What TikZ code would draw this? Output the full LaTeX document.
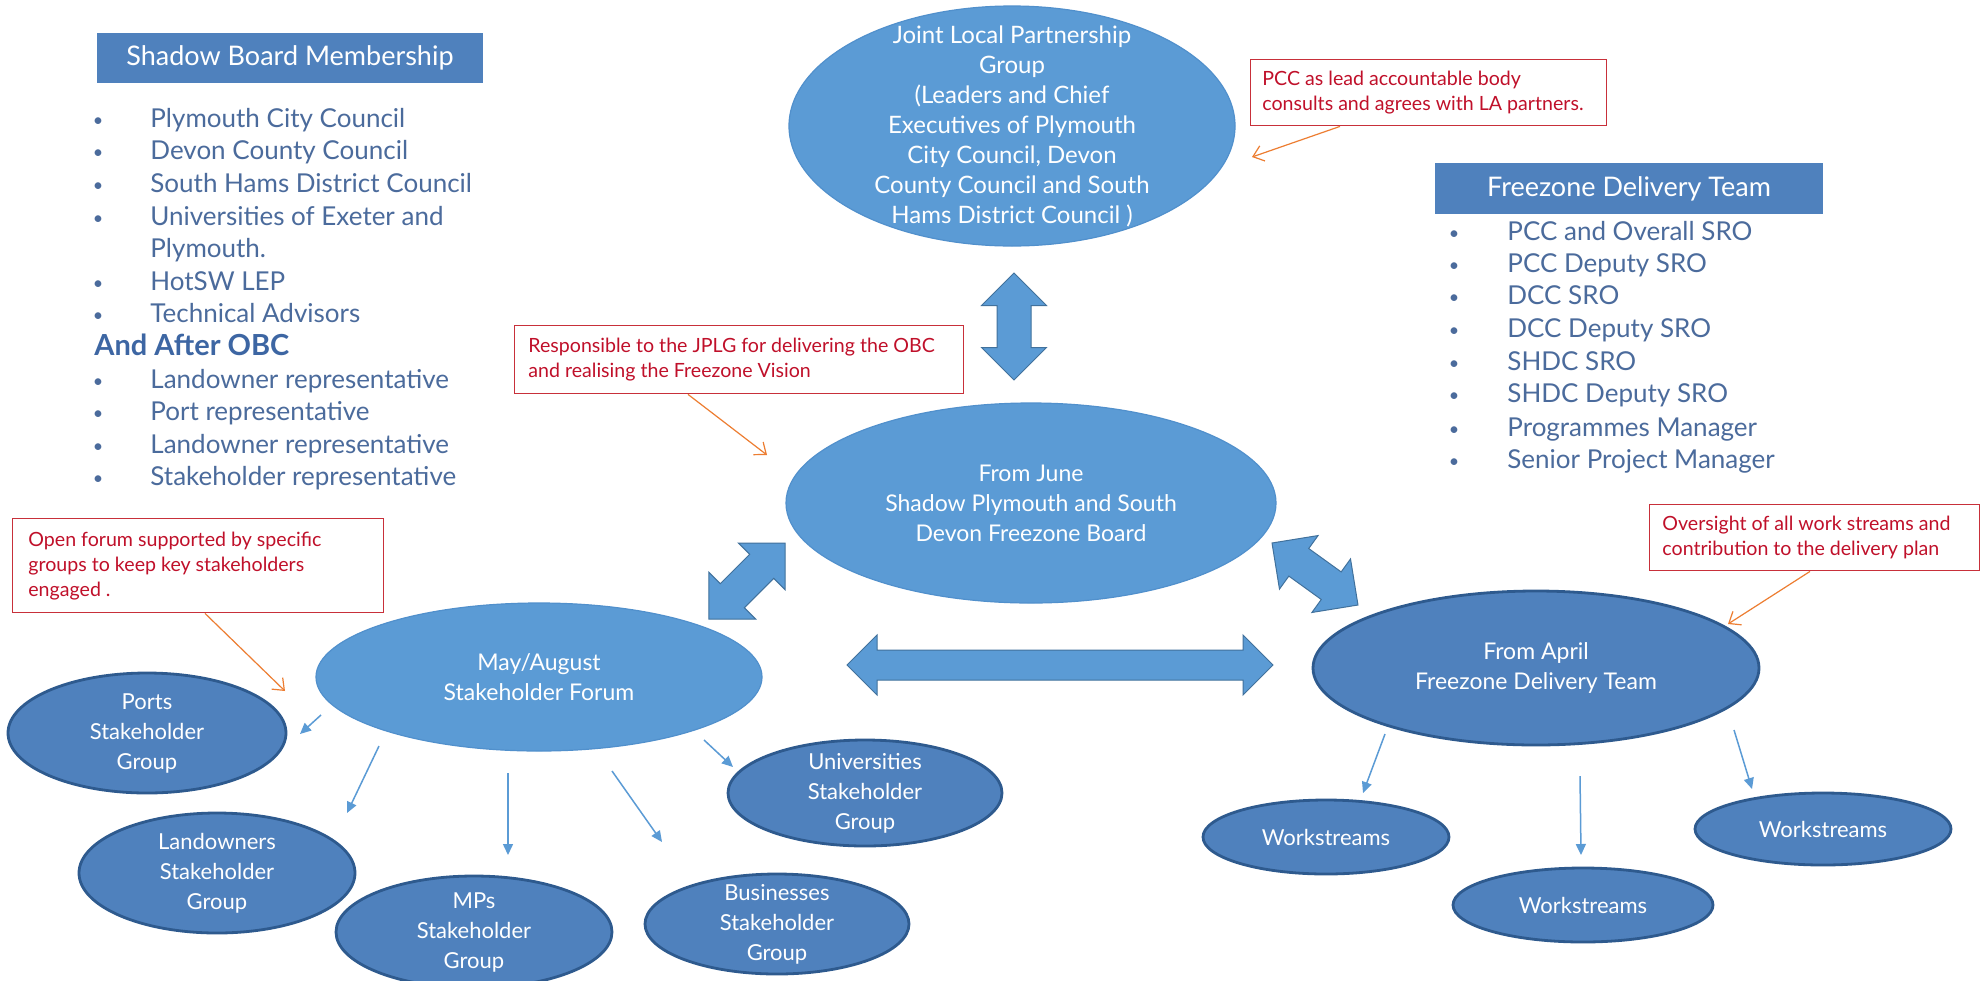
\documentclass[tikz,border=0pt]{standalone}
\usepackage{fontspec}
\setmainfont{Lato}
\usetikzlibrary{shapes.geometric,arrows.meta}
\definecolor{lightell}{HTML}{5B9BD5}
\definecolor{lightedge}{HTML}{5190CC}
\definecolor{darkell}{HTML}{4F81BD}
\definecolor{darkedge}{HTML}{2E5A8E}
\definecolor{hdr}{HTML}{4F81BD}
\definecolor{listc}{HTML}{4B6B9C}
\definecolor{obcc}{HTML}{3D66A3}
\definecolor{notered}{HTML}{C0102A}
\definecolor{noteedge}{HTML}{C8303A}
\definecolor{orangearr}{HTML}{ED7D31}
\definecolor{blockfill}{HTML}{5B9BD5}
\definecolor{blockedge}{HTML}{41719C}
\tikzset{
  pics/dblarrow/.style args={#1/#2/#3}{code={
    \filldraw[fill=blockfill, draw=blockedge, line width=0.5pt]
      (0,0) -- (#2,#2) -- (#2,#3) -- (#1-#2,#3) -- (#1-#2,#2) -- (#1,0)
      -- (#1-#2,-#2) -- (#1-#2,-#3) -- (#2,-#3) -- (#2,-#2) -- cycle;
  }}
}
\begin{document}
\begin{tikzpicture}[x=0.5pt,y=-0.5pt,
  every node/.style={inner sep=0pt},
  lightnode/.style={ellipse, fill=lightell, draw=lightedge, line width=0.6pt},
  darknode/.style={ellipse, fill=darkell, draw=darkedge, line width=1.4pt},
  elltext/.style={text=white, align=center, font=\fontsize{11.5}{15}\selectfont},
  smalltext/.style={text=white, align=center, font=\fontsize{11}{15}\selectfont},
  header/.style={fill=hdr, text=white, font=\fontsize{13.5}{16}\selectfont},
  listitem/.style={anchor=west, text=listc, font=\fontsize{13}{16}\selectfont, text height=0.72em, text depth=0.2em},
  obcitem/.style={anchor=west, text=obcc, font=\fontsize{14.5}{16}\bfseries\selectfont, text height=0.72em, text depth=0.2em},
  bulletmark/.style={text=listc, font=\fontsize{9}{10}\selectfont},
  notebox/.style={draw=noteedge, line width=0.7pt, fill=white, anchor=north west},
  notetext/.style={text=notered, align=left, anchor=west, font=\fontsize{9.8}{12.5}\selectfont},
  notearrow/.style={orangearr, line width=0.6pt, -{Straight Barb[length=5pt,width=8pt]}},
  feed/.style={lightell, line width=0.75pt, -{Triangle[length=5.5pt,width=5pt]}}
]
\useasboundingbox[fill=white] (0,0) rectangle (1984,980);

% ---------- headers ----------
\node[header, minimum width=193pt, minimum height=25pt] (sbmhead) at (290,58) {Shadow Board Membership};
\node[header, minimum width=194pt, minimum height=25.5pt] (fdthead) at (1629,188.5) {Freezone Delivery Team};

% ---------- left list ----------
\foreach \yy/\tt [count=\i] in {122/Plymouth City Council, 154/Devon County Council, 187/South Hams District Council, 220/Universities of Exeter and, 252/Plymouth., 285/HotSW LEP, 317/Technical Advisors, 383/Landowner representative, 415/Port representative, 448/Landowner representative, 480/Stakeholder representative}
  \node[listitem] (sbm\i) at (150,\yy) {\tt};
\foreach \yy [count=\i] in {122,154,187,220,285,317,383,415,448,480}
  \node[bulletmark] (sbmb\i) at (98,\yy) {\textbullet};
\node[obcitem] (obc) at (94,350) {And After OBC};

% ---------- right list ----------
\foreach \yy/\tt [count=\i] in {235/PCC and Overall SRO, 267/PCC Deputy SRO, 299/DCC SRO, 332/DCC Deputy SRO, 365/SHDC SRO, 397/SHDC Deputy SRO, 431/Programmes Manager, 463/Senior Project Manager}
{
  \node[listitem] (fdt\i) at (1507,\yy) {\tt};
  \node[bulletmark] (fdtb\i) at (1454,\yy) {\textbullet};
}

% ---------- ellipses ----------
\node[lightnode, minimum width=223pt, minimum height=120pt] (jlpg) at (1012,126) {};
\node[elltext, font=\fontsize{12}{15}\selectfont] (jlpgt) at (jlpg) {Joint Local Partnership\\Group\\(Leaders and Chief\\Executives of Plymouth\\City Council, Devon\\County Council and South\\Hams District Council )};

\node[lightnode, minimum width=245pt, minimum height=100pt] (board) at (1031,503) {};
\node[elltext] (boardt) at (board) {From June\\Shadow Plymouth and South\\Devon Freezone Board};

\node[lightnode, minimum width=223pt, minimum height=74pt] (forum) at (539,677) {};
\node[elltext] (forumt) at (forum) {May/August\\Stakeholder Forum};

\node[darknode, minimum width=223pt, minimum height=77pt] (fdt) at (1536,668) {};
\node[elltext] (fdtt) at (fdt) {From April\\Freezone Delivery Team};

\node[darknode, minimum width=139pt, minimum height=60pt] (ports) at (147,733) {};
\node[smalltext] at (ports) {Ports\\Stakeholder\\Group};
\node[darknode, minimum width=138pt, minimum height=60pt] (land) at (217,873) {};
\node[smalltext] at (land) {Landowners\\Stakeholder\\Group};
\node[darknode, minimum width=138pt, minimum height=56pt] (mps) at (474,932) {};
\node[smalltext] at (mps) {MPs\\Stakeholder\\Group};
\node[darknode, minimum width=132pt, minimum height=50pt] (bus) at (777,924) {};
\node[smalltext] at (bus) {Businesses\\Stakeholder\\Group};
\node[darknode, minimum width=137pt, minimum height=53pt] (uni) at (865,793) {};
\node[smalltext] at (uni) {Universities\\Stakeholder\\Group};

\node[darknode, minimum width=123pt, minimum height=37pt] (ws1) at (1326,837) {};
\node[smalltext] at (ws1) {Workstreams};
\node[darknode, minimum width=130pt, minimum height=37pt] (ws2) at (1583,905) {};
\node[smalltext] at (ws2) {Workstreams};
\node[darknode, minimum width=128pt, minimum height=36pt] (ws3) at (1823,829) {};
\node[smalltext] at (ws3) {Workstreams};

% ---------- block arrows ----------
\pic[rotate=-90] at (1014,273) {dblarrow=107/32.5/17};
\pic at (847,665) {dblarrow=426/30/15};
\pic[rotate=225] at (785,543) {dblarrow=107.5/33/17};
\pic[rotate=-35.8] at (1272,543) {dblarrow=106/33/17};

% ---------- thin feed arrows ----------
\coordinate (fp1) at (321,715); \coordinate (fp2) at (300,734);
\coordinate (fl1) at (379,746); \coordinate (fl2) at (347,813);
\coordinate (fm1) at (508,773); \coordinate (fm2) at (508,855);
\coordinate (fb1) at (612,771); \coordinate (fb2) at (662,842);
\coordinate (fu1) at (704,740); \coordinate (fu2) at (733,767);
\coordinate (d11) at (1385,734); \coordinate (d12) at (1363,793);
\coordinate (d21) at (1580,776); \coordinate (d22) at (1581,855);
\coordinate (d31) at (1734,730); \coordinate (d32) at (1752,789);
\draw[feed] (fp1) -- (fp2);
\draw[feed] (fl1) -- (fl2);
\draw[feed] (fm1) -- (fm2);
\draw[feed] (fb1) -- (fb2);
\draw[feed] (fu1) -- (fu2);
\draw[feed] (d11) -- (d12);
\draw[feed] (d21) -- (d22);
\draw[feed] (d31) -- (d32);

% ---------- notes ----------
\node[notebox, minimum width=178pt, minimum height=33pt] (pccbox) at (1250,59) {};
\node[notetext] (pcct) at ([xshift=6pt]pccbox.west) {PCC as lead accountable body\\consults and agrees with LA partners.};
\coordinate (pcctip) at (1252,157);
\draw[notearrow] ([xshift=45pt]pccbox.south west) -- (pcctip);

\node[notebox, minimum width=224.5pt, minimum height=34pt] (respbox) at (514,325) {};
\node[notetext] (respt) at ([xshift=7pt]respbox.west) {Responsible to the JPLG for delivering the OBC\\and realising the Freezone Vision};
\coordinate (resptip) at (767,455);
\draw[notearrow] ([xshift=87pt]respbox.south west) -- (resptip);

\node[notebox, minimum width=185.5pt, minimum height=47pt] (openbox) at (12,518) {};
\node[notetext] (opent) at ([xshift=8pt]openbox.west) {Open forum supported by specific\\groups to keep key stakeholders\\engaged .};
\coordinate (opentip) at (285,691);
\draw[notearrow] ([xshift=96.5pt]openbox.south west) -- (opentip);

\node[notebox, minimum width=165pt, minimum height=33pt] (overbox) at (1649,504) {};
\node[notetext] (overt) at ([xshift=6.5pt]overbox.west) {Oversight of all work streams and\\contribution to the delivery plan};
\coordinate (overtip) at (1728,624);
\draw[notearrow] ([xshift=80.5pt]overbox.south west) -- (overtip);
\end{tikzpicture}
\end{document}
